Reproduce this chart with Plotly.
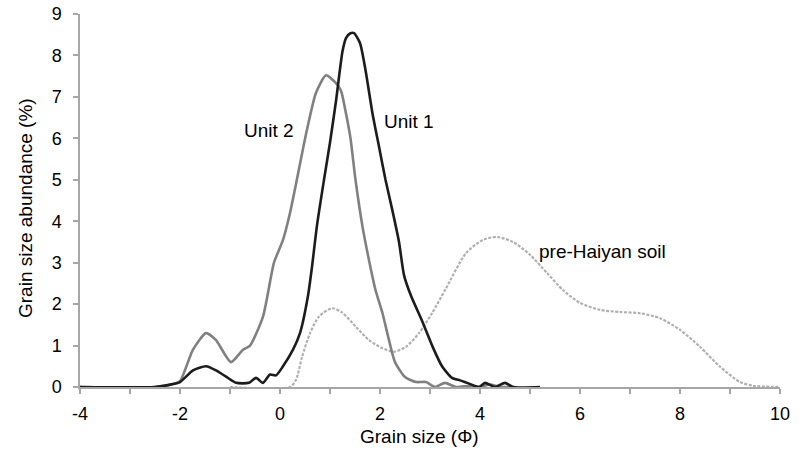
import plotly.graph_objects as go

# ---- data ----
unit1_x = [-4, -2.5, -2.14, -2.0, -1.74, -1.48, -1.28, -1.08, -0.88, -0.62, -0.48, -0.34,
           -0.2, -0.08, 0.06, 0.26, 0.4, 0.56, 0.64, 0.74, 0.88, 1.0, 1.12, 1.25, 1.32,
           1.4, 1.48, 1.6, 1.71, 1.85, 1.98, 2.11, 2.25, 2.38, 2.48, 2.62, 2.84, 3.06,
           3.24, 3.44, 3.6, 3.74, 3.98, 4.1, 4.3, 4.5, 4.66, 5.2]
unit1_y = [0, 0, 0.07, 0.12, 0.4, 0.5, 0.4, 0.25, 0.1, 0.1, 0.22, 0.1,
           0.3, 0.28, 0.5, 0.9, 1.3, 2.2, 2.9, 3.9, 5.0, 5.9, 6.9, 8.1, 8.42,
           8.53, 8.54, 8.3, 7.65, 6.6, 5.8, 5.0, 4.25, 3.5, 2.7, 2.2, 1.6, 0.95,
           0.5, 0.22, 0.16, 0.1, 0.0, 0.1, 0.0, 0.1, 0.0, 0.0]

unit2_x = [-4, -2.5, -2.14, -2.0, -1.74, -1.48, -1.28, -0.98, -0.74, -0.6, -0.34, -0.12,
           0.06, 0.2, 0.32, 0.52, 0.72, 0.92, 1.12, 1.22, 1.32, 1.41, 1.51, 1.65, 1.78,
           1.91, 2.05, 2.18, 2.3, 2.5, 2.72, 2.92, 3.1, 3.3, 3.52, 3.8, 4.0, 4.2, 4.4, 4.7]
unit2_y = [0, 0, 0.07, 0.14, 0.9, 1.3, 1.13, 0.6, 0.9, 1.0, 1.7, 3.0,
           3.55, 4.2, 4.9, 6.1, 7.1, 7.52, 7.33, 7.15, 6.6, 6.0, 5.0, 3.87, 3.06,
           2.34, 1.78, 1.13, 0.6, 0.24, 0.12, 0.12, 0.0, 0.1, 0.0, 0.03, 0.0, 0.06, 0.0, 0.0]

pre_x = [-1.0, 0.2, 0.32, 0.44, 0.6, 0.78, 1.04, 1.24, 1.52, 1.78, 2.04, 2.28, 2.52,
         2.78, 3.04, 3.32, 3.72, 4.06, 4.34, 4.66, 5.0, 5.34, 5.66, 6.0, 6.4, 6.8,
         7.2, 7.6, 8.0, 8.4, 8.8, 9.2, 9.46, 10]
pre_y = [0, 0, 0.17, 0.72, 1.3, 1.7, 1.9, 1.8, 1.45, 1.13, 0.94, 0.85, 0.97,
         1.3, 1.78, 2.38, 3.23, 3.55, 3.62, 3.5, 3.19, 2.75, 2.34, 2.03, 1.86, 1.81,
         1.78, 1.66, 1.38, 0.97, 0.49, 0.12, 0.03, 0]

x_ticks = list(range(-4, 11))
x_ticktext = [str(v) if v % 2 == 0 else "" for v in x_ticks]
y_ticks = list(range(0, 10))

FONT = "Liberation Sans, Arial, Helvetica, sans-serif"
AXIS_COLOR = "#a6a6a6"

W, H = 799, 451
ML, MR, MT, MB = 80, 19, 14, 64
PW, PH = W - ML - MR, H - MT - MB

fig = go.Figure()
fig.add_trace(go.Scatter(x=pre_x, y=pre_y, mode="lines", name="pre-Haiyan soil",
                         line=dict(color="#b0b0b0", width=2.2, dash="3px,1.5px",
                                   shape="spline", smoothing=0.7)))
fig.add_trace(go.Scatter(x=unit2_x, y=unit2_y, mode="lines", name="Unit 2",
                         line=dict(color="#808080", width=2.6, shape="spline", smoothing=0.6)))
fig.add_trace(go.Scatter(x=unit1_x, y=unit1_y, mode="lines", name="Unit 1",
                         line=dict(color="#1c1c1c", width=2.6, shape="spline", smoothing=0.6)))

fig.add_annotation(x=-0.22, y=6.2, text="Unit 2", showarrow=False,
                   font=dict(size=19, color="#000000", family=FONT))
fig.add_annotation(x=2.58, y=6.4, text="Unit 1", showarrow=False,
                   font=dict(size=19, color="#000000", family=FONT))
fig.add_annotation(x=6.44, y=3.26, text="pre-Haiyan soil", showarrow=False,
                   font=dict(size=19, color="#000000", family=FONT))

# axis titles (positions in screen pixels converted to paper coords)
fig.add_annotation(xref="paper", yref="paper", x=(419.5 - ML) / PW, y=-(436 - (H - MB)) / PH,
                   text="Grain size (Φ)", showarrow=False, yanchor="middle", xanchor="center",
                   font=dict(size=19, color="#000000", family=FONT))
fig.add_annotation(xref="paper", yref="paper", x=-(ML - 25) / PW, y=((H - MB) - 208) / PH,
                   text="Grain size abundance (%)", showarrow=False, textangle=-90,
                   xanchor="center", yanchor="middle",
                   font=dict(size=19, color="#000000", family=FONT))

fig.update_layout(
    width=W, height=H,
    margin=dict(l=ML, r=MR, t=MT, b=MB, autoexpand=False),
    paper_bgcolor="white", plot_bgcolor="white",
    showlegend=False,
    font=dict(family=FONT, size=18, color="#000000"),
)
fig.update_xaxes(range=[-4, 10], tickmode="array", tickvals=x_ticks, ticktext=x_ticktext,
                 showgrid=False, zeroline=False, showline=True, linecolor=AXIS_COLOR,
                 linewidth=1.5, ticks="outside", ticklen=5, tickcolor=AXIS_COLOR,
                 tickwidth=1.5, ticklabelstandoff=5, ticklabeloverflow="allow", automargin=False)
fig.update_yaxes(range=[0, 9], tickmode="array", tickvals=y_ticks,
                 showgrid=False, zeroline=False, showline=True, linecolor=AXIS_COLOR,
                 linewidth=1.5, ticks="outside", ticklen=5, tickcolor=AXIS_COLOR,
                 tickwidth=1.5, ticklabelstandoff=8, ticklabeloverflow="allow", automargin=False)

# remove the default 8px page margin so the figure fills the 799x451 window exactly
fig.write_html("out.html", config={"displayModeBar": False},
               post_script="document.body.style.margin='0';document.body.style.overflow='hidden';")
